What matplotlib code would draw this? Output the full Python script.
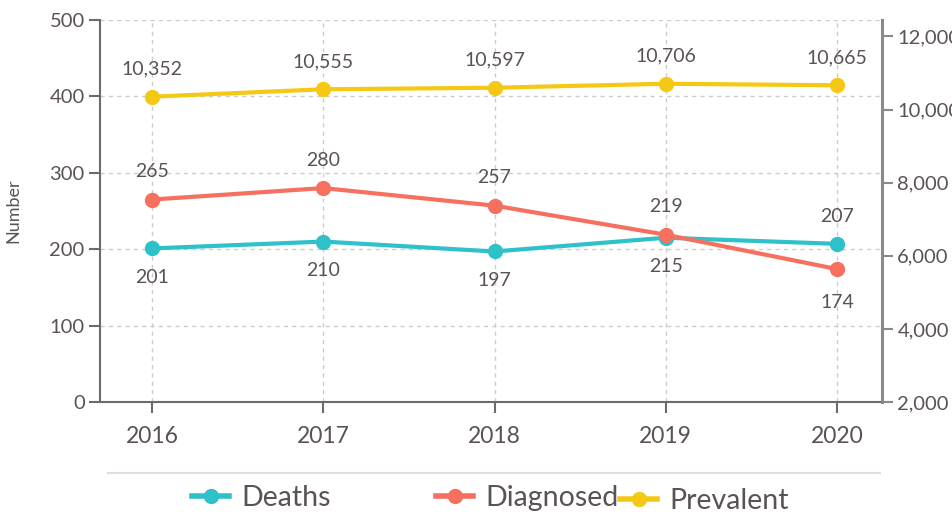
import matplotlib
matplotlib.use("Agg")
import matplotlib.pyplot as plt
from matplotlib.lines import Line2D

plt.rcParams['font.family'] = ['Lato', 'DejaVu Sans']

years = [2016, 2017, 2018, 2019, 2020]
deaths = [201, 210, 197, 215, 207]
diagnosed = [265, 280, 257, 219, 174]
prevalent = [10352, 10555, 10597, 10706, 10665]
left_ticks = [0, 100, 200, 300, 400, 500]
right_ticks = [2000, 4000, 6000, 8000, 10000, 12000]
series_names = ['Deaths', 'Diagnosed', 'Prevalent']

c_deaths = '#2EC1C9'
c_diag = '#F7705F'
c_prev = '#F5C816'
txt = '#5A5254'

fig = plt.figure(figsize=(9.53, 5.16), dpi=100)
ax = fig.add_axes([100/953, 114/516, 782/953, 382/516])
ax2 = ax.twinx()

ax.set_xlim(2015.696, 2020.263)
ax.set_ylim(0, 500)
ax2.set_ylim(2000, 12450)

ax.set_xticks(years)
ax.set_xticklabels([str(y) for y in years], fontsize=16.5, color=txt)
ax.set_yticks(left_ticks)
ax.set_yticklabels([str(v) for v in left_ticks], fontsize=14.5, color=txt)
ax2.set_yticks(right_ticks)
ax2.set_yticklabels([f"{v:,}" for v in right_ticks], fontsize=14.5, color=txt)

ax.grid(True, color='#cccccc', linestyle=(0, (3, 3)), linewidth=1)
ax.set_axisbelow(True)

ax.spines['top'].set_visible(False)
ax2.spines['top'].set_visible(False)
ax.spines['right'].set_visible(False)
ax2.spines['left'].set_visible(False)
ax2.spines['bottom'].set_visible(False)
ax.spines['left'].set_color('#6b6b6b')
ax.spines['left'].set_linewidth(1.5)
ax.spines['bottom'].set_color('#6b6b6b')
ax.spines['bottom'].set_linewidth(1.5)
ax2.spines['right'].set_color('#8a8a8a')
ax2.spines['right'].set_linewidth(2.2)

ax.tick_params(axis='x', length=8, width=1.5, color='#6b6b6b', pad=9)
ax.tick_params(axis='y', length=8, width=1.5, color='#6b6b6b', pad=3)
ax2.tick_params(axis='y', length=8, width=1.5, color='#8a8a8a', pad=3)

ax.set_ylabel('Number', fontsize=13, color=txt, labelpad=20)

lw = 3
ms = 10
ax.plot(years, deaths, color=c_deaths, lw=lw, marker='o', ms=ms, zorder=3, clip_on=False)
ax.plot(years, diagnosed, color=c_diag, lw=lw, marker='o', ms=ms, zorder=3, clip_on=False)
ax2.plot(years, prevalent, color=c_prev, lw=lw, marker='o', ms=ms, zorder=3, clip_on=False)

fs = 14
deaths_below = [True, True, True, True, False]
diag_below = [False, False, False, False, True]
for x, v, b in zip(years, deaths, deaths_below):
    ax.annotate(str(v), (x, v), xytext=(0, -21 if b else 20), textcoords='offset points',
                ha='center', va='center', fontsize=fs, color=txt)
for x, v, b in zip(years, diagnosed, diag_below):
    ax.annotate(str(v), (x, v), xytext=(0, -24 if b else 20), textcoords='offset points',
                ha='center', va='center', fontsize=fs, color=txt)
for x, v in zip(years, prevalent):
    ax2.annotate(f"{v:,}", (x, v), xytext=(0, 20), textcoords='offset points',
                 ha='center', va='center', fontsize=fs, color=txt)

# legend separator line
fig.add_artist(Line2D([108/953, 880/953], [1 - 473/516, 1 - 473/516],
                      color='#dddddd', lw=1.5, transform=fig.transFigure))

colors = [c_deaths, c_diag, c_prev]
anchors = [(192/953, 1 - 498/516), (436/953, 1 - 498/516), (620/953, 1 - 501/516)]
for name, c, anc in zip(series_names, colors, anchors):
    h = Line2D([], [], color=c, lw=4, marker='o', ms=10)
    leg = fig.legend([h], [name], loc='center left', bbox_to_anchor=anc,
                     frameon=False, fontsize=20.5, handlelength=1.3,
                     handletextpad=0.45, borderpad=0, borderaxespad=0)
    for t in leg.get_texts():
        t.set_color(txt)

fig.savefig('out.png', dpi=100)
